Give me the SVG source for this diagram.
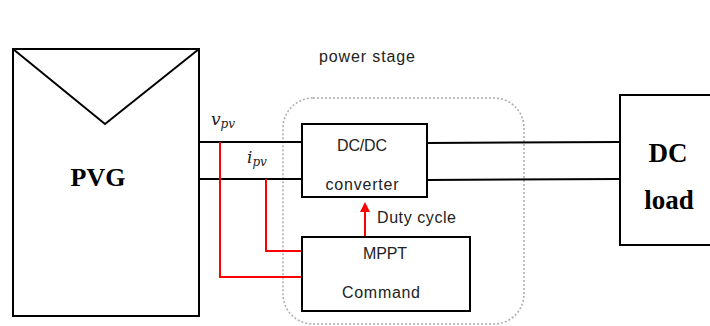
<svg xmlns="http://www.w3.org/2000/svg" width="710" height="326" viewBox="0 0 710 326">
<style>
.box{fill:#fff;stroke:#000;stroke-width:2}
.w{fill:none;stroke:#000;stroke-width:2}
.r{fill:none;stroke:#ff0000;stroke-width:2}
.sans{font-family:"Liberation Sans",Arial,sans-serif;font-size:16px;fill:#222}
.bold{font-family:"Liberation Serif","Times New Roman",serif;font-weight:bold;fill:#000}
.math{font-family:"DejaVu Serif","Liberation Serif",serif;font-style:italic;fill:#222}
</style>
<defs>
<marker id="ah" markerWidth="10" markerHeight="10" refX="5" refY="5" orient="auto" markerUnits="userSpaceOnUse">
<path d="M0,0 L10,5 L0,10 z" fill="#ff0000"/>
</marker>
</defs>
<rect width="710" height="326" fill="#fff"/>
<g id="power-stage">
<rect x="283" y="98" width="241" height="226" rx="30" ry="30" fill="none" stroke="#aaa" stroke-width="1.5" stroke-dasharray="2,2"/>
<text class="sans" x="367" y="62" text-anchor="middle" font-size="15" textLength="96">power stage</text>
</g>
<g id="connectors">
<line class="w" x1="199" y1="142" x2="302" y2="142"/>
<line class="w" x1="195" y1="179" x2="302" y2="179"/>
<line class="w" x1="427" y1="143" x2="620" y2="142"/>
<line class="w" x1="427" y1="180" x2="620" y2="179"/>
<polyline class="r" points="220,142 220,277 303,277"/>
<polyline class="r" points="266,179 266,251 303,251"/>
<line class="r" x1="365" y1="236" x2="365" y2="207" stroke-width="1.5" marker-end="url(#ah)"/>
</g>
<g id="pvg">
<rect class="box" x="13" y="49" width="186" height="267"/>
<polyline class="w" points="13,49 105,124 199,49"/>
<text class="bold" x="98" y="186" text-anchor="middle" font-size="26">PVG</text>
</g>
<g id="labels">
<text class="math" x="211" y="125" font-size="17">v<tspan font-size="12" dy="3">pv</tspan></text>
<text class="math" x="247" y="163" font-size="17">i<tspan font-size="12" dy="3">pv</tspan></text>
<text class="sans" x="377" y="223" textLength="79">Duty cycle</text>
</g>
<g id="dcdc">
<rect class="box" x="302" y="124" width="125" height="73"/>
<text class="sans" x="362" y="151" text-anchor="middle" textLength="50">DC/DC</text>
<text class="sans" x="362" y="190" text-anchor="middle" textLength="73">converter</text>
</g>
<g id="mppt">
<rect class="box" x="302" y="237" width="168" height="74"/>
<text class="sans" x="385" y="259" text-anchor="middle" textLength="44">MPPT</text>
<text class="sans" x="381" y="298" text-anchor="middle" textLength="78">Command</text>
</g>
<g id="dcload">
<rect class="box" x="620" y="95" width="95" height="150"/>
<text class="bold" x="668" y="162" text-anchor="middle" font-size="27">DC</text>
<text class="bold" x="669" y="209" text-anchor="middle" font-size="27">load</text>
</g>
</svg>
